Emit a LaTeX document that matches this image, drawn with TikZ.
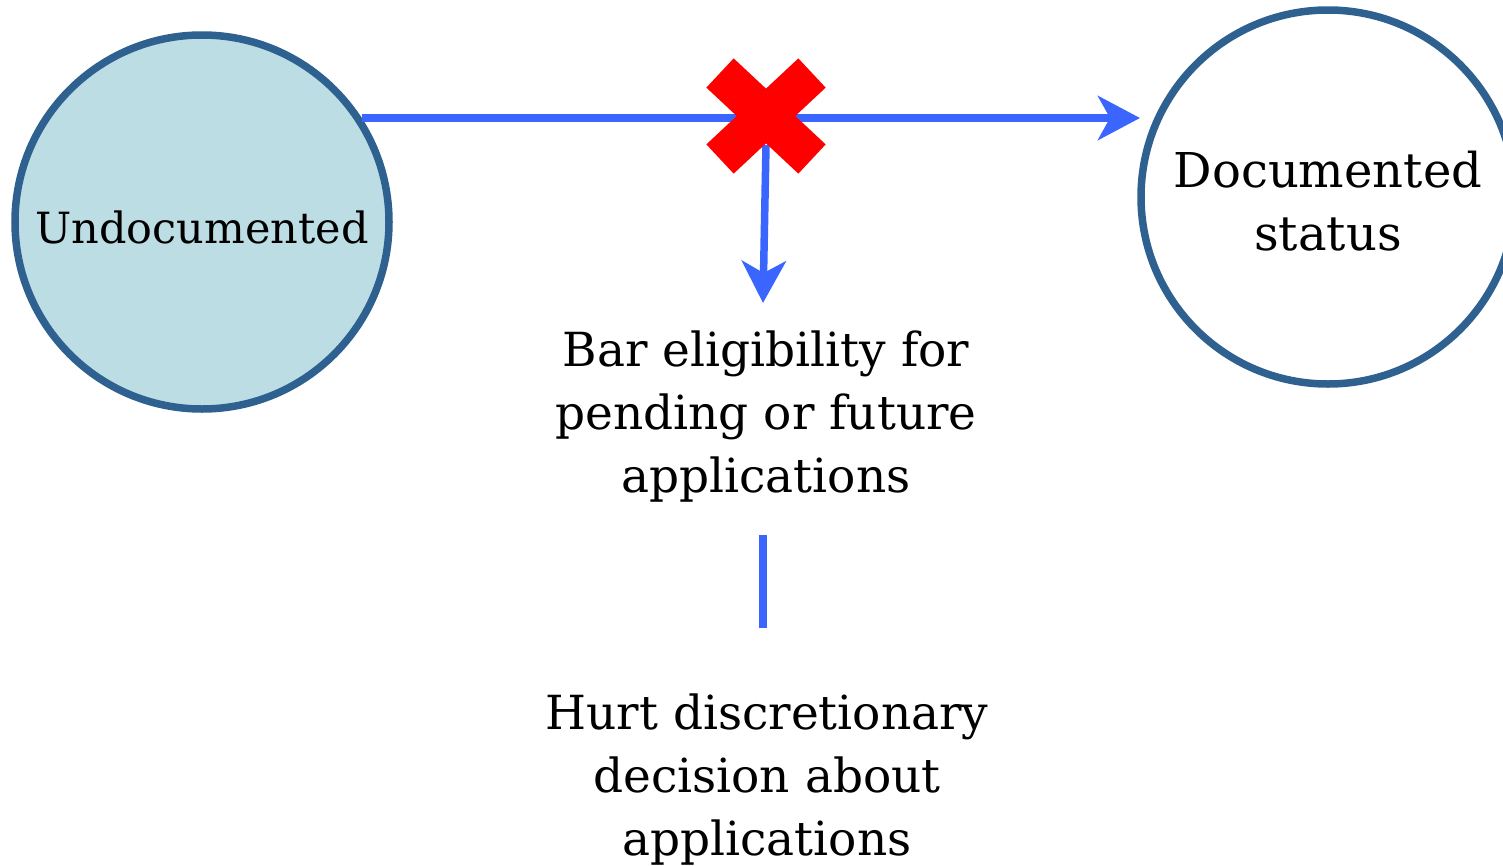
\documentclass[tikz,border=0pt]{standalone}
\usepackage{fontspec}
\setmainfont{DejaVu Serif}
\usetikzlibrary{arrows.meta}
\definecolor{circborder}{HTML}{2F6190}
\definecolor{circfill}{HTML}{BCDDE3}
\definecolor{flowblue}{HTML}{3A66FF}
\definecolor{crossred}{HTML}{FF0000}
\tikzset{
  state/.style={circle, draw=circborder, line width=7.5pt, minimum size=374pt, inner sep=0pt},
  flow/.style={draw=flowblue, line width=7.5pt},
  flowarrow/.style={flow, -{Stealth[length=42pt, width=44pt, inset=12pt]}},
  lbl/.style={align=center, font=\fontsize{47}{63}\selectfont, inner sep=0pt},
  crossarm/.style={draw=crossred, line width=40pt, line cap=butt},
}
\begin{document}
\begin{tikzpicture}[x=1pt, y=-1pt]
\useasboundingbox (0,0) rectangle (1503,865);
\begin{scope}
\clip (0,0) rectangle (1503,865);
\node[state, fill=circfill] (undoc) at (202,222) {};
\node[state, fill=white] (doc) at (1328,197) {};
\end{scope}
\node[lbl, anchor=base, font=\fontsize{43}{63}\selectfont] (undoclbl) at (202,243) {Undocumented};
\node[lbl, anchor=base, font=\fontsize{48}{63}\selectfont] (doclbl) at (1328,250) {Documented\\status};
\coordinate (hstart) at (362,118);
\coordinate (hend) at (1140,118);
\coordinate (vstart) at (766,145);
\coordinate (vend) at (763,303);
\draw[flowarrow] (hstart) -- (hend);
\draw[flowarrow] (vstart) -- (vend);
\coordinate (xa) at (720,73);
\coordinate (xb) at (812,159);
\coordinate (xc) at (812,73);
\coordinate (xd) at (720,159);
\draw[crossarm] (xa) -- (xb);
\draw[crossarm] (xc) -- (xd);
\node[lbl, anchor=base] (bar) at (766,492) {Bar eligibility for\\pending or future\\applications};
\coordinate (lstart) at (763,535);
\coordinate (lend) at (763,628);
\draw[flow] (lstart) -- (lend);
\node[lbl, anchor=base] (hurt) at (767,855) {Hurt discretionary\\decision about\\applications};
\end{tikzpicture}
\end{document}
